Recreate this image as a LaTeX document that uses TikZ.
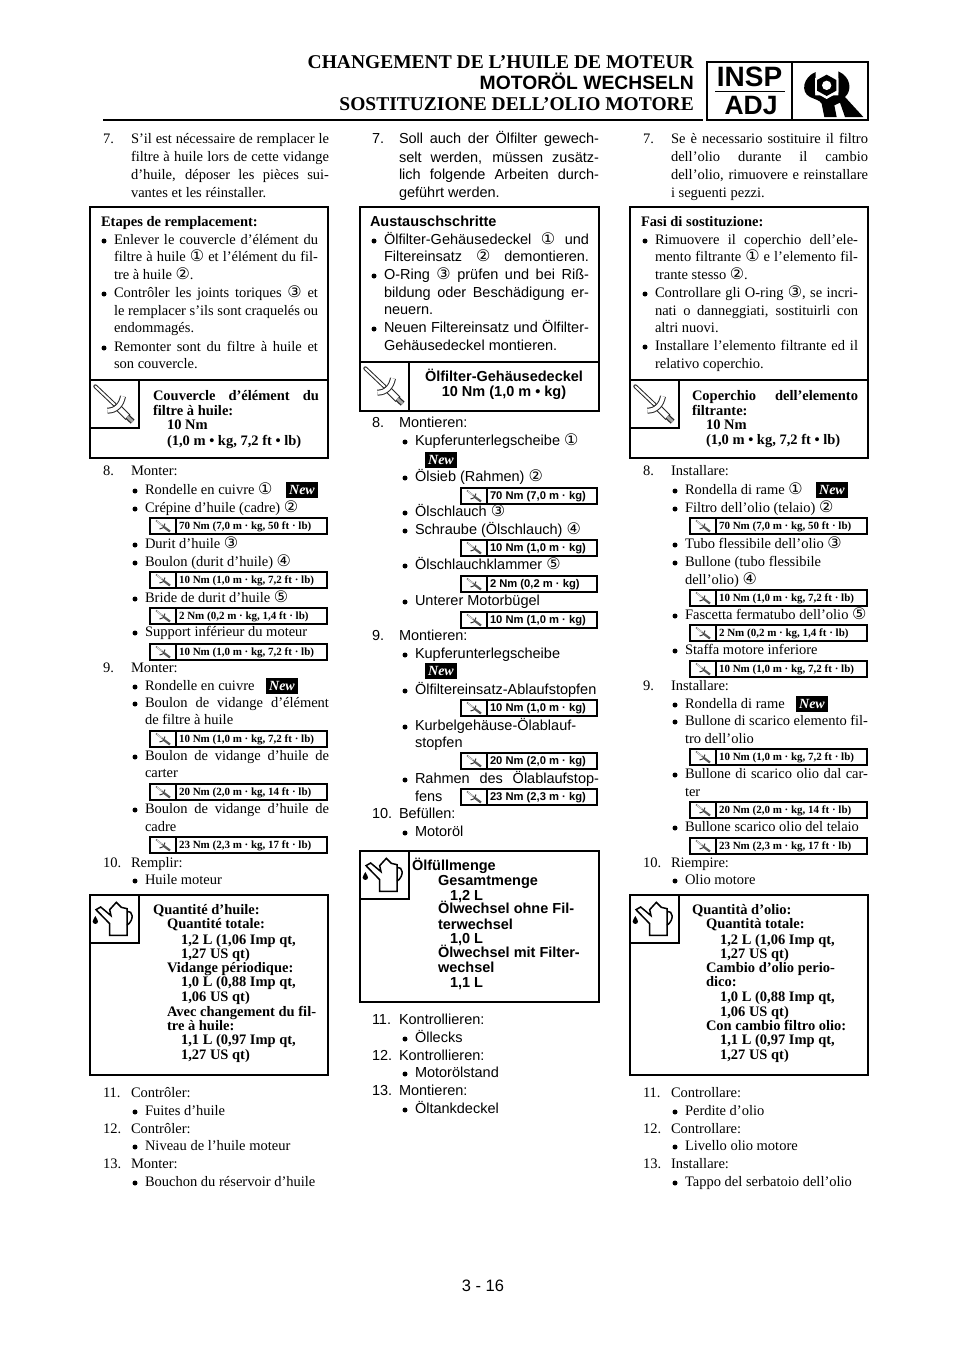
\documentclass[tikz,border=0pt]{standalone}
\usepackage{fontspec}
\setmainfont{Liberation Serif}
\newfontfamily\sansf{Liberation Sans}
\newfontfamily\cirf{DejaVu Sans}
\newcounter{tn}
\newcommand\cn[1]{{\cirf\fontsize{16}{16}\selectfont\ifcase#1\or ①\or ②\or ③\or ④\or ⑤\fi}}
\newcommand\tl[3]{\stepcounter{tn}\node[txt] (t\arabic{tn}) at (#1,#2+4) {#3};}
\newcommand\jl[4]{\stepcounter{tn}\node[txt] (t\arabic{tn}) at (#1,#2+4) {\makebox[#3pt][s]{#4}};}
\newcommand\bu[2]{\fill (#1-10,#2+1) circle (2.5);}
\newcommand\bi[3]{\bu{#1}{#2}\tl{#1}{#2}{#3}}
\newcommand\bj[4]{\bu{#1}{#2}\jl{#1}{#2}{#3}{#4}}
\newcommand\tq[4]{\draw[thin box] (#1,#2-8) rectangle (#3,#2+8);
  \draw[thin box] (#1+26,#2-8) -- (#1+26,#2+8);
  \pic at (#1+13,#2) {smalltq};
  \stepcounter{tn}\node[tqt] (t\arabic{tn}) at (#1+29,#2+3.5) {#4};}
\newcommand\newb[2]{\stepcounter{tn}\node[newt] (t\arabic{tn}) at (#1,#2) {\textbf{\textit{New}}};}
\tikzset{
  x=1pt,y=-1pt,
  txt/.style={anchor=base west,inner sep=0pt,outer sep=0pt,font=\curfont},
  tqt/.style={anchor=base west,inner sep=0pt,outer sep=0pt,font=\tqfont},
  newt/.style={fill=black,text=white,minimum width=32pt,minimum height=16pt,inner sep=0pt,font=\fontsize{14}{14}\selectfont},
  thin box/.style={draw=black,line width=1.2pt},
  big box/.style={draw=black,line width=2pt},
  smalltq/.pic={
    \draw[line width=1.5pt,black!55] (-7,-5.5) -- (0,0);
    \draw[line width=2.2pt,black!65] (1,1) -- (7,5.5);
    \draw[line width=1pt,black!80] (-3.5,3) .. controls (0,2.5) .. (2,-2.5);
    \draw[line width=.6pt,white] (-6,-4.6) -- (-1,-.8);
  },
  bigtq/.pic={
    \draw[line width=4pt,black!85,line cap=round] (22,25) -- (80,80);
    \draw[line width=2pt,white,line cap=round] (22,25) -- (80,80);
    \draw[line width=7pt,black!85] (88,86) -- (120,118);
    \draw[line width=5pt,white] (88,86) -- (120,118);
    \draw[line width=5.5pt,black!85] (118,116) -- (134,131);
    \draw[line width=3pt,black!35] (118,116) -- (134,131);
    \draw[line width=6pt,black!85] (58,98) .. controls (85,98) and (100,80) .. (105,55);
    \draw[line width=4pt,white] (58,98) .. controls (85,98) and (100,80) .. (105,55);
  },
  bigoil/.pic={
    \draw[line width=1.5pt,line join=miter]
      (65,127) -- (117,127) -- (117,47) -- (100,43) -- (85,28) -- (65,50) -- (69,68) -- (38,42) -- (24,50) -- (65,92) -- cycle;
    \draw[line width=1.5pt] (117,55) .. controls (135,52) and (140,80) .. (117,97);
    \fill (22,69) .. controls (18,78) and (13,82) .. (14,86) .. controls (15,95) and (29,95) .. (30,86) .. controls (31,82) and (26,78) .. (22,69) -- cycle;
  },
}
\begin{document}
\begin{tikzpicture}
\useasboundingbox (0,0) rectangle (960,1358);
\fill[white] (0,0) rectangle (960,1358);

%%% header
\def\curfont{\fontsize{19.5}{20}\selectfont\bfseries}
\node[anchor=base east,inner sep=0pt,font=\curfont] (h1) at (694,68) {CHANGEMENT DE L’HUILE DE MOTEUR};
\node[anchor=base east,inner sep=0pt,font=\sansf\fontsize{19.3}{20}\selectfont\bfseries] (h2) at (694,89) {MOTORÖL WECHSELN};
\node[anchor=base east,inner sep=0pt,font=\curfont] (h3) at (694,110) {SOSTITUZIONE DELL’OLIO MOTORE};
\draw[line width=2pt] (103,120) -- (703,120);
\draw[line width=2pt] (707,62) rectangle (868,120);
\draw[line width=2pt] (792,62) -- (792,120);
\draw[line width=1pt] (715,91) -- (785,91);
\node[inner sep=0pt,font=\sansf\fontsize{28}{28}\selectfont\bfseries] (insp) at (749.5,77) {INSP};
\node[inner sep=0pt,font=\sansf\fontsize{26.5}{27}\selectfont\bfseries] (adj) at (751,106) {ADJ};
\begin{scope}[shift={(795,62)},scale=1/3]
  \fill (62,30) .. controls (25,45) and (15,90) .. (45,105) .. controls (60,112) and (75,115) .. (80,125)
     -- (88,165) -- (125,165) -- (118,130) -- (135,122) -- (150,165) -- (205,165) -- (150,105)
     .. controls (172,85) and (168,45) .. (130,28) -- (130,100) -- (60,100) -- cycle;
  \fill[white] (95,28) -- (130,49) -- (130,91) -- (95,111) -- (60,91) -- (60,49) -- cycle;
  \fill (95,38) -- (124,54) -- (124,86) -- (95,102) -- (66,86) -- (66,54) -- cycle;
  \fill[white] (95,70) circle (14);
\end{scope}

%%% ------- column 1
\def\curfont{\fontsize{14.5}{16}\selectfont}
\def\tqfont{\fontsize{11}{11}\selectfont\bfseries}
\tl{103}{139}{7.}
\jl{131}{139}{198}{S’il est nécessaire de remplacer le}
\jl{131}{157}{198}{filtre à huile lors de cette vidange}
\jl{131}{175}{198}{d’huile, déposer les pièces sui-}
\tl{131}{193}{vantes et les réinstaller.}

\draw[big box] (90,207) rectangle (328,458);
\draw[big box] (90,380) -- (328,380);
\draw[big box] (90,428) -- (139,428) -- (139,380);
\pic at (88,378) [scale=1/3] {bigtq};
\tl{101}{222}{\textbf{Etapes de remplacement:}}
\bj{114}{240}{204}{Enlever le couvercle d’élément du}
\jl{114}{257}{204}{filtre à huile \cn1 et l’élément du fil-}
\tl{114}{275}{tre à huile \cn2.}
\bj{114}{293}{204}{Contrôler les joints toriques \cn3 et}
\jl{114}{311}{204}{le remplacer s’ils sont craquelés ou}
\tl{114}{328}{endommagés.}
\bj{114}{347}{204}{Remonter sont du filtre à huile et}
\tl{114}{364}{son couvercle.}
\jl{153}{396}{166}{\textbf{Couvercle d’élément du}}
\tl{153}{411}{\textbf{filtre à huile:}}
\tl{167}{425}{\textbf{10 Nm}}
\tl{167}{441}{\textbf{(1,0 m • kg, 7,2 ft • lb)}}

\tl{103}{471}{8.}\tl{131}{471}{Monter:}
\bi{145}{490}{Rondelle en cuivre \cn1}\newb{302}{490}
\bi{145}{508}{Crépine d’huile (cadre) \cn2}
\tq{150}{526}{327}{70 Nm (7,0 m · kg, 50 ft · lb)}
\bi{145}{544}{Durit d’huile \cn3}
\bi{145}{562}{Boulon (durit d’huile) \cn4}
\tq{150}{580}{327}{10 Nm (1,0 m · kg, 7,2 ft · lb)}
\bi{145}{598}{Bride de durit d’huile \cn5}
\tq{150}{616}{327}{2 Nm (0,2 m · kg, 1,4 ft · lb)}
\bi{145}{632}{Support inférieur du moteur}
\tq{150}{652}{327}{10 Nm (1,0 m · kg, 7,2 ft · lb)}
\tl{103}{668}{9.}\tl{131}{668}{Monter:}
\bi{145}{686}{Rondelle en cuivre}\newb{282}{686}
\bj{145}{703}{184}{Boulon de vidange d’élément}
\tl{145}{720}{de filtre à huile}
\tq{150}{739}{327}{10 Nm (1,0 m · kg, 7,2 ft · lb)}
\bj{145}{756}{184}{Boulon de vidange d’huile de}
\tl{145}{773}{carter}
\tq{150}{792}{327}{20 Nm (2,0 m · kg, 14 ft · lb)}
\bj{145}{809}{184}{Boulon de vidange d’huile de}
\tl{145}{827}{cadre}
\tq{150}{845}{327}{23 Nm (2,3 m · kg, 17 ft · lb)}
\tl{103}{863}{10.}\tl{131}{863}{Remplir:}
\bi{145}{880}{Huile moteur}

\draw[big box] (90,895) rectangle (328,1075);
\draw[big box] (90,943) -- (139,943) -- (139,895);
\pic at (88,893) [scale=1/3] {bigoil};
\tl{153}{910}{\textbf{Quantité d’huile:}}
\tl{167}{924}{\textbf{Quantité totale:}}
\tl{181}{940}{\textbf{1,2 L (1,06 Imp qt,}}
\tl{181}{954}{\textbf{1,27 US qt)}}
\tl{167}{968}{\textbf{Vidange périodique:}}
\tl{181}{982}{\textbf{1,0 L (0,88 Imp qt,}}
\tl{181}{997}{\textbf{1,06 US qt)}}
\tl{167}{1012}{\textbf{Avec changement du fil-}}
\tl{167}{1026}{\textbf{tre à huile:}}
\tl{181}{1040}{\textbf{1,1 L (0,97 Imp qt,}}
\tl{181}{1055}{\textbf{1,27 US qt)}}

\tl{103}{1093}{11.}\tl{131}{1093}{Contrôler:}
\bi{145}{1111}{Fuites d’huile}
\tl{103}{1129}{12.}\tl{131}{1129}{Contrôler:}
\bi{145}{1146}{Niveau de l’huile moteur}
\tl{103}{1164}{13.}\tl{131}{1164}{Monter:}
\bi{145}{1182}{Bouchon du réservoir d’huile}

%%% ------- column 2
\def\curfont{\sansf\fontsize{14.5}{16}\selectfont}
\def\tqfont{\sansf\fontsize{11.2}{12}\selectfont\bfseries}
\tl{372}{139}{7.}
\jl{399}{139}{200}{Soll auch der Ölfilter gewech-}
\jl{399}{158}{200}{selt werden, müssen zusätz-}
\jl{399}{175}{200}{lich folgende Arbeiten durch-}
\tl{399}{193}{geführt werden.}

\draw[big box] (360,207) rectangle (599,411);
\draw[big box] (360,362) -- (599,362);
\draw[big box] (409,362) -- (409,411);
\pic at (358,360) [scale=1/3] {bigtq};
\tl{370}{222}{\textbf{Austauschschritte}}
\bj{384}{240}{205}{Ölfilter-Gehäusedeckel \cn1 und}
\jl{384}{257}{205}{Filtereinsatz \cn2 demontieren.}
\bj{384}{275}{205}{O-Ring \cn3 prüfen und bei Riß-}
\jl{384}{293}{205}{bildung oder Beschädigung er-}
\tl{384}{310}{neuern.}
\bj{384}{328}{205}{Neuen Filtereinsatz und Ölfilter-}
\tl{384}{346}{Gehäusedeckel montieren.}
\node[anchor=base,inner sep=0pt,font=\curfont\bfseries] (g1) at (504,381) {Ölfilter-Gehäusedeckel};
\node[anchor=base,inner sep=0pt,font=\curfont\bfseries] (g2) at (504,396) {10 Nm (1,0 m • kg)};

\tl{372}{423}{8.}\tl{399}{423}{Montieren:}
\bi{415}{441}{Kupferunterlegscheibe \cn1}\newb{441}{460}
\bi{415}{477}{Ölsieb (Rahmen) \cn2}
\tq{461}{496}{597}{70 Nm (7,0 m · kg)}
\bi{415}{512}{Ölschlauch \cn3}
\bi{415}{530}{Schraube (Ölschlauch) \cn4}
\tq{461}{548}{597}{10 Nm (1,0 m · kg)}
\bi{415}{565}{Ölschlauchklammer \cn5}
\tq{461}{584}{597}{2 Nm (0,2 m · kg)}
\bi{415}{601}{Unterer Motorbügel}
\tq{461}{620}{597}{10 Nm (1,0 m · kg)}
\tl{372}{636}{9.}\tl{399}{636}{Montieren:}
\bi{415}{654}{Kupferunterlegscheibe}\newb{441}{671}
\bi{415}{690}{Ölfiltereinsatz-Ablaufstopfen}
\tq{461}{708}{597}{10 Nm (1,0 m · kg)}
\bj{415}{726}{184}{Kurbelgehäuse-Ölablauf-}
\tl{415}{743}{stopfen}
\tq{461}{761}{597}{20 Nm (2,0 m · kg)}
\bj{415}{779}{184}{Rahmen des Ölablaufstop-}
\tl{415}{797}{fens}
\tq{461}{797}{597}{23 Nm (2,3 m · kg)}
\tl{372}{814}{10.}\tl{399}{814}{Befüllen:}
\bi{415}{832}{Motoröl}

\draw[big box] (360,851) rectangle (599,1002);
\draw[big box] (360,899) -- (409,899) -- (409,851);
\pic at (358,849) [scale=1/3] {bigoil};
\tl{412}{866}{\textbf{Ölfüllmenge}}
\tl{438}{881}{\textbf{Gesamtmenge}}
\tl{450}{896}{\textbf{1,2 L}}
\tl{438}{909}{\textbf{Ölwechsel ohne Fil-}}
\tl{438}{925}{\textbf{terwechsel}}
\tl{450}{939}{\textbf{1,0 L}}
\tl{438}{953}{\textbf{Ölwechsel mit Filter-}}
\tl{438}{968}{\textbf{wechsel}}
\tl{450}{983}{\textbf{1,1 L}}

\tl{372}{1020}{11.}\tl{399}{1020}{Kontrollieren:}
\bi{415}{1038}{Öllecks}
\tl{372}{1056}{12.}\tl{399}{1056}{Kontrollieren:}
\bi{415}{1073}{Motorölstand}
\tl{372}{1091}{13.}\tl{399}{1091}{Montieren:}
\bi{415}{1109}{Öltankdeckel}

%%% ------- column 3
\def\curfont{\fontsize{14.5}{16}\selectfont}
\def\tqfont{\fontsize{11}{11}\selectfont\bfseries}
\tl{643}{139}{7.}
\jl{671}{139}{197}{Se è necessario sostituire il filtro}
\jl{671}{157}{197}{dell’olio durante il cambio}
\jl{671}{175}{197}{dell’olio, rimuovere e reinstallare}
\tl{671}{193}{i seguenti pezzi.}

\draw[big box] (630,207) rectangle (868,458);
\draw[big box] (630,380) -- (868,380);
\draw[big box] (630,428) -- (679,428) -- (679,380);
\pic at (628,378) [scale=1/3] {bigtq};
\tl{641}{222}{\textbf{Fasi di sostituzione:}}
\bj{655}{240}{203}{Rimuovere il coperchio dell’ele-}
\jl{655}{257}{203}{mento filtrante \cn1 e l’elemento fil-}
\tl{655}{275}{trante stesso \cn2.}
\bj{655}{293}{203}{Controllare gli O-ring \cn3, se incri-}
\jl{655}{311}{203}{nati o danneggiati, sostituirli con}
\tl{655}{328}{altri nuovi.}
\bj{655}{346}{203}{Installare l’elemento filtrante ed il}
\tl{655}{364}{relativo coperchio.}
\jl{692}{396}{166}{\textbf{Coperchio dell’elemento}}
\tl{692}{411}{\textbf{filtrante:}}
\tl{706}{425}{\textbf{10 Nm}}
\tl{706}{440}{\textbf{(1,0 m • kg, 7,2 ft • lb)}}

\tl{643}{471}{8.}\tl{671}{471}{Installare:}
\bi{685}{490}{Rondella di rame \cn1}\newb{832}{490}
\bi{685}{508}{Filtro dell’olio (telaio) \cn2}
\tq{690}{526}{867}{70 Nm (7,0 m · kg, 50 ft · lb)}
\bi{685}{544}{Tubo flessibile dell’olio \cn3}
\bi{685}{562}{Bullone (tubo flessibile}
\tl{685}{580}{dell’olio) \cn4}
\tq{690}{598}{867}{10 Nm (1,0 m · kg, 7,2 ft · lb)}
\bi{685}{615}{Fascetta fermatubo dell’olio \cn5}
\tq{690}{633}{867}{2 Nm (0,2 m · kg, 1,4 ft · lb)}
\bi{685}{650}{Staffa motore inferiore}
\tq{690}{669}{867}{10 Nm (1,0 m · kg, 7,2 ft · lb)}
\tl{643}{686}{9.}\tl{671}{686}{Installare:}
\bi{685}{704}{Rondella di rame}\newb{812}{704}
\bj{685}{721}{183}{Bullone di scarico elemento fil-}
\tl{685}{739}{tro dell’olio}
\tq{690}{757}{867}{10 Nm (1,0 m · kg, 7,2 ft · lb)}
\bj{685}{774}{183}{Bullone di scarico olio dal car-}
\tl{685}{792}{ter}
\tq{690}{810}{867}{20 Nm (2,0 m · kg, 14 ft · lb)}
\bi{685}{827}{Bullone scarico olio del telaio}
\tq{690}{846}{867}{23 Nm (2,3 m · kg, 17 ft · lb)}
\tl{643}{863}{10.}\tl{671}{863}{Riempire:}
\bi{685}{880}{Olio motore}

\draw[big box] (630,895) rectangle (868,1075);
\draw[big box] (630,943) -- (679,943) -- (679,895);
\pic at (628,893) [scale=1/3] {bigoil};
\tl{692}{910}{\textbf{Quantità d’olio:}}
\tl{706}{924}{\textbf{Quantità totale:}}
\tl{720}{940}{\textbf{1,2 L (1,06 Imp qt,}}
\tl{720}{954}{\textbf{1,27 US qt)}}
\tl{706}{968}{\textbf{Cambio d’olio perio-}}
\tl{706}{982}{\textbf{dico:}}
\tl{720}{997}{\textbf{1,0 L (0,88 Imp qt,}}
\tl{720}{1012}{\textbf{1,06 US qt)}}
\tl{706}{1026}{\textbf{Con cambio filtro olio:}}
\tl{720}{1040}{\textbf{1,1 L (0,97 Imp qt,}}
\tl{720}{1055}{\textbf{1,27 US qt)}}

\tl{643}{1093}{11.}\tl{671}{1093}{Controllare:}
\bi{685}{1111}{Perdite d’olio}
\tl{643}{1129}{12.}\tl{671}{1129}{Controllare:}
\bi{685}{1146}{Livello olio motore}
\tl{643}{1164}{13.}\tl{671}{1164}{Installare:}
\bi{685}{1182}{Tappo del serbatoio dell’olio}

%%% page number
\node[inner sep=0pt,font=\sansf\fontsize{16.5}{18}\selectfont] (pg) at (483,1286) {3 - 16};
\end{tikzpicture}
\end{document}
